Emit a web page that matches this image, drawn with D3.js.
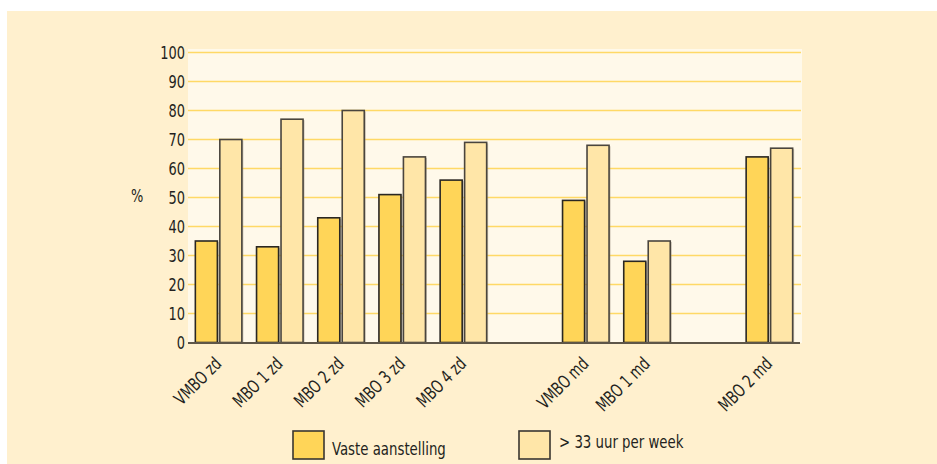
<!DOCTYPE html>
<html><head><meta charset="utf-8">
<script src="https://cdn.jsdelivr.net/npm/d3@7"></script>
<style>
html,body{margin:0;padding:0;background:#fff;}
text{font-family:"DejaVu Sans Condensed","DejaVu Sans",sans-serif;font-stretch:condensed;fill:#231f20;}
</style></head>
<body>
<svg id="chart" width="937" height="464"></svg>
<script>
// categories (null = empty gap slot)
const categories = ["VMBO zd", "MBO 1 zd", "MBO 2 zd", "MBO 3 zd", "MBO 4 zd", null, "VMBO md", "MBO 1 md", null, "MBO 2 md"];
const seriesNames = ["Vaste aanstelling", "> 33 uur per week"];
const vaste = [35, 33, 43, 51, 56, null, 49, 28, null, 64];
const uren = [70, 77, 80, 64, 69, null, 68, 35, null, 67];
const yTicks = [0, 10, 20, 30, 40, 50, 60, 70, 80, 90, 100];
const seriesColors = ["#FFD558", "#FFE6A8"];

const SX = 0.8; // horizontal condensing of text

const svg = d3.select("#chart");
svg.append("rect").attr("x", 7).attr("y", 11).attr("width", 930).attr("height", 453).attr("fill", "#FFF0CE");

const plot = {left: 188, right: 802, top: 49, bottom: 343};
svg.append("rect").attr("x", plot.left).attr("y", plot.top)
  .attr("width", plot.right - plot.left).attr("height", plot.bottom - plot.top).attr("fill", "#FFF9EA");

const slots = categories.map((c, i) => "s" + i);
const x = d3.scaleBand().domain(slots).range([188, 800]).paddingInner(0.24).paddingOuter(0.12);
const x1 = d3.scaleBand().domain([0, 1]).range([0, x.bandwidth()]).paddingInner(0.1);
const y = d3.scaleLinear().domain([0, 100]).range([342.5, 52.5]);

// gridlines
svg.append("g").selectAll("line").data(yTicks.filter(t => t > 0)).join("line")
  .attr("x1", plot.left).attr("x2", 801)
  .attr("y1", d => y(d)).attr("y2", d => y(d))
  .attr("stroke", "#FFD966").attr("stroke-width", 1.6);

// y axis labels
const yAxis = d3.axisLeft(y).tickValues(yTicks).tickSize(0).tickPadding(0);
const gy = svg.append("g").attr("transform", `translate(${plot.left - 3},0)`).call(yAxis);
gy.select(".domain").remove();
gy.selectAll("text").attr("font-size", 18).attr("font-family", null).attr("fill", "#231f20")
  .attr("x", 0).attr("transform", `scale(${SX},1)`);

svg.append("text").attr("transform", `translate(131,202) scale(${SX},1)`).attr("font-size", 18).text("%");

// bars
const data = categories.map((c, i) => ({c, i, vals: [vaste[i], uren[i]]})).filter(d => d.c !== null);
const groups = svg.append("g").selectAll("g").data(data).join("g")
  .attr("transform", d => `translate(${x("s" + d.i)},0)`);
groups.selectAll("rect.shadow").data(d => d.vals).join("rect").attr("class", "shadow")
  .attr("x", (v, j) => x1(j) + 1.5).attr("y", v => y(v) + 1)
  .attr("width", x1.bandwidth()).attr("height", v => y(0) - y(v))
  .attr("fill", "#9a9080").attr("opacity", 0.5);
groups.selectAll("rect.bar").data(d => d.vals).join("rect").attr("class", "bar")
  .attr("x", (v, j) => x1(j)).attr("y", v => y(v))
  .attr("width", x1.bandwidth()).attr("height", v => y(0) - y(v))
  .attr("fill", (v, j) => seriesColors[j])
  .attr("stroke", (v, j) => j === 0 ? "#2a2722" : "#4a453d").attr("stroke-width", 1.6);

// x axis line
svg.append("line").attr("x1", plot.left).attr("x2", 800).attr("y1", 343).attr("y2", 343)
  .attr("stroke", "#5e5648").attr("stroke-width", 2);

// category labels
svg.append("g").selectAll("text").data(data).join("text")
  .attr("transform", d => `translate(${x("s" + d.i) + x.bandwidth() / 2 + 4},365) rotate(-45) scale(${SX},1)`)
  .attr("text-anchor", "end").attr("font-size", 18).text(d => d.c);

// legend
const legend = [
  {name: seriesNames[0], color: seriesColors[0], sx: 293, tx: 332, ty: 455},
  {name: seriesNames[1], color: seriesColors[1], sx: 519, tx: 559, ty: 448}
];
const lg = svg.append("g").selectAll("g").data(legend).join("g");
lg.append("rect").attr("x", d => d.sx).attr("y", 431).attr("width", 31).attr("height", 28)
  .attr("fill", d => d.color).attr("stroke", "#3a3630").attr("stroke-width", 1.6);
lg.append("text").attr("transform", d => `translate(${d.tx},${d.ty}) scale(${SX},1)`)
  .attr("font-size", 18.5).text(d => d.name);
</script>
</body></html>
